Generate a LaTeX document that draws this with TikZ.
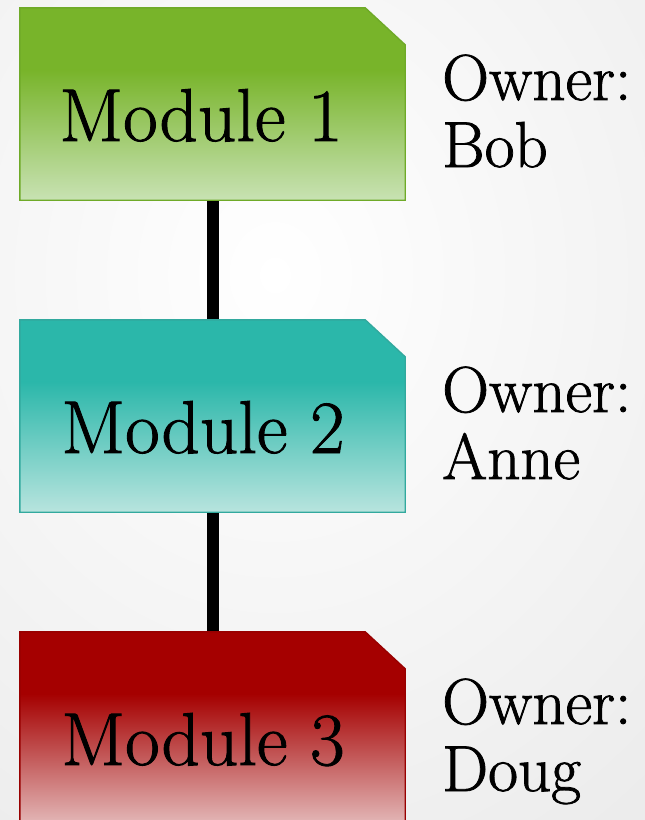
\documentclass[tikz,border=0pt]{standalone}
\usepackage{fontspec}
\newfontfamily\tface{Latin Modern Roman}[FakeBold=1.2]
\definecolor{gDark}{HTML}{78B42A}
\definecolor{gLight}{HTML}{C8E2B3}
\definecolor{gLine}{HTML}{6FAA28}
\definecolor{tDark}{HTML}{2BB7AA}
\definecolor{tLight}{HTML}{B8E4DE}
\definecolor{tLine}{HTML}{32A99E}
\definecolor{rDark}{HTML}{A50000}
\definecolor{rLight}{HTML}{E3B8B8}
\definecolor{rLine}{HTML}{980000}
\newcommand{\modshape}[4]{%
  \fill[#2] (#1.north west) -- ([xshift=-40pt]#1.north east) -- ([yshift=-37pt]#1.north east) -- (#1.south east) -- (#1.south west) -- cycle;
  \shade[top color=#2, bottom color=#3] ([yshift=-62pt]#1.north west) rectangle (#1.south east);
  \draw[#4, line width=1.4pt, line join=miter] (#1.north west) -- ([xshift=-40pt]#1.north east) -- ([yshift=-37pt]#1.north east) -- (#1.south east) -- (#1.south west) -- cycle;
}
\tikzset{
  modbox/.style={rectangle, minimum width=385pt, minimum height=192pt, inner sep=0pt},
  modlabel/.style={anchor=base, inner sep=0pt, font=\tface\fontsize{75}{80}\selectfont},
  ownerlabel/.style={anchor=base west, inner sep=0pt, font=\tface\fontsize{65}{67}\selectfont},
  link/.style={line width=12pt, black}
}
\begin{document}
\begin{tikzpicture}[x=1pt,y=-1pt]
\useasboundingbox (0,0) rectangle (645,820);
\clip (0,0) rectangle (645,820);
\shade[inner color=white, outer color=black!8] (-350,-450) rectangle (900,1000);
\node[modbox] (m1) at (212.5,104) {};
\node[modbox] (m2) at (212.5,416) {};
\node[modbox] (m3) at (212.5,728) {};
\draw[link] (m1.south) -- (m2.north);
\draw[link] (m2.south) -- (m3.north);
\modshape{m1}{gDark}{gLight}{gLine}
\modshape{m2}{tDark}{tLight}{tLine}
\modshape{m3}{rDark}{rLight}{rLine}
\node[modlabel] (t1) at (201,141) {Module 1};
\node[modlabel] (t2) at (203,453) {Module 2};
\node[modlabel] (t3) at (203,765) {Module 3};
\node[ownerlabel] (o1) at (442,100) {Owner:};
\node[ownerlabel] (n1) at (442,167) {Bob};
\node[ownerlabel] (o2) at (442,412) {Owner:};
\node[ownerlabel] (n2) at (442,479) {Anne};
\node[ownerlabel] (o3) at (442,724) {Owner:};
\node[ownerlabel] (n3) at (442,791) {Doug};
\end{tikzpicture}
\end{document}
